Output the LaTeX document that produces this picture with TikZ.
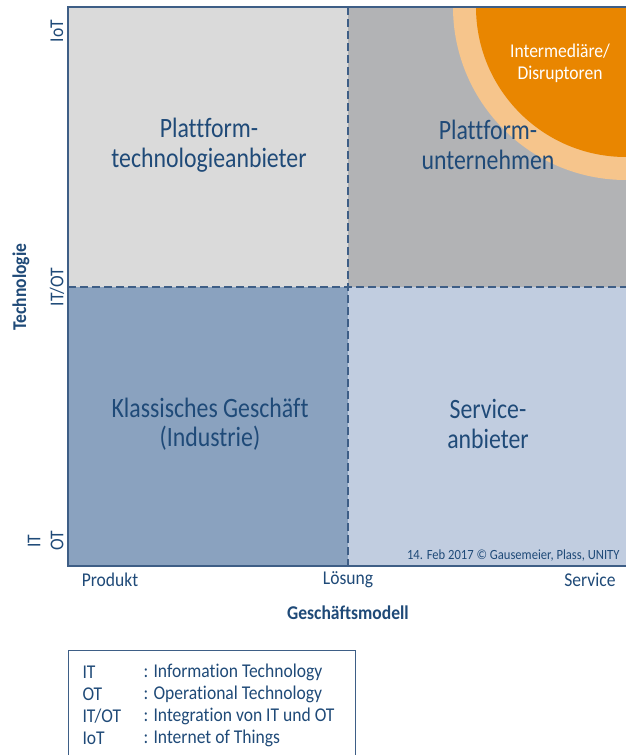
\documentclass[tikz,border=0pt]{standalone}
\usepackage{fontspec}
\setmainfont{Carlito}[FakeStretch=0.9,Ligatures=NoCommon]
\newfontfamily\quadfont{Carlito}[FakeStretch=0.85,Ligatures=NoCommon]
\definecolor{dblue}{HTML}{1F4A78}
\definecolor{frame}{HTML}{3E5E86}
\definecolor{qtl}{HTML}{DADADA}
\definecolor{qtr}{HTML}{B2B3B5}
\definecolor{qbl}{HTML}{8AA2BF}
\definecolor{qbr}{HTML}{C1CDE0}
\definecolor{orng}{HTML}{E98600}
\definecolor{peach}{HTML}{F6C58C}
\tikzset{
  quadlabel/.style={text=dblue,font=\quadfont\fontsize{28}{29.5}\selectfont,align=center},
  axlabel/.style={text=dblue,font=\fontsize{19.5}{20}\selectfont},
  axtitle/.style={text=dblue,font=\fontsize{19.5}{20}\selectfont\bfseries},
  legtext/.style={text=dblue,font=\fontsize{19.5}{20}\selectfont,anchor=west},
  divider/.style={draw=frame,line width=1.3pt,dash pattern=on 8pt off 4pt},
}
\begin{document}
\begin{tikzpicture}[x=1pt,y=-1pt]
\useasboundingbox (0,0) rectangle (626,755);
\fill[white] (0,0) rectangle (626,755);
% quadrants
\fill[qtl] (68,7) rectangle (348,287);
\fill[qtr] (348,7) rectangle (626,287);
\fill[qbl] (68,287) rectangle (348,566);
\fill[qbr] (348,287) rectangle (626,566);
% circle
\begin{scope}
\clip (68,7) rectangle (626,566);
\fill[peach] (626,7) circle[radius=173];
\fill[orng] (626,7) circle[radius=150];
\end{scope}
% dividers
\coordinate (vt) at (348,7);
\coordinate (vb) at (348,566);
\coordinate (hl) at (68,287);
\coordinate (hr) at (626,287);
\draw[divider] (vt) -- (vb);
\draw[divider] (hl) -- (hr);
% frame
\coordinate (ftr) at (626,7);
\coordinate (ftl) at (68,7);
\coordinate (fbl) at (68,566);
\coordinate (fbr) at (626,566);
\draw[frame,line width=1.2pt] (ftr) -- (ftl) -- (fbl) -- (fbr);
% quadrant labels
\node[quadlabel] (q1) at (209,145) {Plattform-\\technologieanbieter};
\node[quadlabel] (q2) at (488,145) {Plattform-\\unternehmen};
\node[quadlabel] (q3) at (210,424) {Klassisches Geschäft\\(Industrie)};
\node[quadlabel] (q4) at (488,424) {Service-\\anbieter};
\node[text=white,font=\fontsize{19.5}{22}\selectfont,align=center] (dis) at (560,63) {Intermediäre/\\Disruptoren};
\node[text=dblue,font=\fontsize{14}{14}\selectfont,anchor=east] (copy) at (623,556) {14. Feb 2017 © Gausemeier, Plass, UNITY};
% y axis
\node[axlabel,rotate=90] (iot) at (57,31) {IoT};
\node[axlabel,rotate=90] (itot) at (57,287) {IT/OT};
\node[axlabel,rotate=90] (ot) at (57,541) {OT};
\node[axlabel,rotate=90] (it) at (34,541) {IT};
\node[axtitle,rotate=90] (tech) at (21,287) {Technologie};
% x axis
\node[axlabel] (prod) at (110,580) {Produkt};
\node[axlabel] (loes) at (348,580) {Lösung};
\node[axlabel] (serv) at (590,580) {Service};
\node[axtitle] (gesch) at (348,613) {Geschäftsmodell};
% legend
\coordinate (lbl) at (68,760);
\coordinate (ltl) at (68,650);
\coordinate (ltr) at (355,650);
\coordinate (lbr) at (355,760);
\draw[frame,line width=0.8pt] (lbl) -- (ltl) -- (ltr) -- (lbr);
\node[legtext] (l1a) at (79,672) {IT};
\node[legtext] (l1b) at (140,672) {: Information Technology};
\node[legtext] (l2a) at (79,694) {OT};
\node[legtext] (l2b) at (140,694) {: Operational Technology};
\node[legtext] (l3a) at (79,716) {IT/OT};
\node[legtext] (l3b) at (140,716) {: Integration von IT und OT};
\node[legtext] (l4a) at (79,738) {IoT};
\node[legtext] (l4b) at (140,738) {: Internet of Things};
\end{tikzpicture}
\end{document}
